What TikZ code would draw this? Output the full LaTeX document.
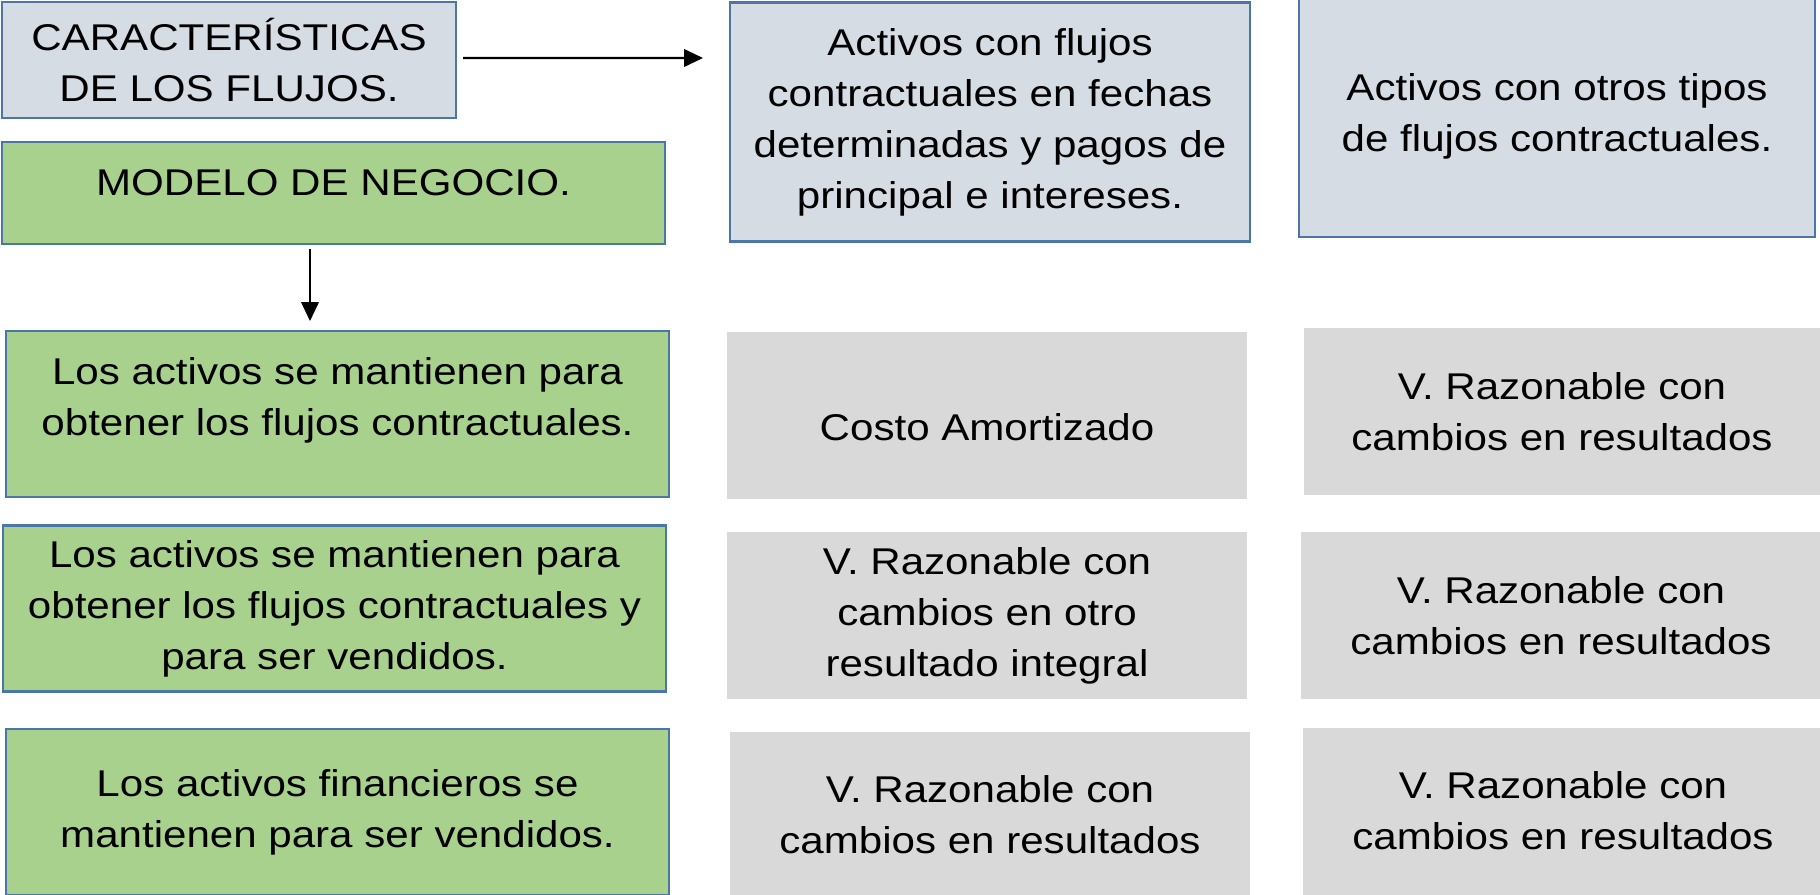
\documentclass[tikz,border=0pt]{standalone}
\usepackage{fontspec}
\setmainfont{Liberation Sans}[FakeStretch=1.13]
\usetikzlibrary{arrows.meta}
\definecolor{azulborde}{HTML}{4A76A8}
\definecolor{azulclaro}{HTML}{D6DCE4}
\definecolor{verdeclaro}{HTML}{A9D18E}
\definecolor{grisclaro}{HTML}{D9D9D9}
\begin{document}
\begin{tikzpicture}[x=0.1mm, y=-0.1mm,
    caja/.style={rectangle, align=center, inner sep=0pt,
      font=\fontsize{10.6pt}{14.5pt}\selectfont},
    cajaazul/.style={caja, draw=azulborde, fill=azulclaro, line width=0.6pt},
    cajaverde/.style={caja, draw=azulborde, fill=verdeclaro, line width=0.6pt,
      minimum width=66.3mm, minimum height=16.6mm},
    cajagris/.style={caja, fill=grisclaro, minimum width=52mm, minimum height=16.7mm},
    flecha/.style={-{Triangle[length=5.4pt,width=5pt]}, line width=0.6pt}]
  \useasboundingbox (0,0) rectangle (1820,894);
  \clip (0,0) rectangle (1820,894);
  %
  \node[cajaazul, minimum width=45.4mm, minimum height=11.6mm] (carac) at (229,60)
    {CARACTERÍSTICAS\\DE LOS FLUJOS.};
  \node[cajaverde, minimum height=10.2mm, text depth=6.2pt] (modelo) at (333.5,193)
    {MODELO DE NEGOCIO.};
  %% encabezados de columna
  \node[cajaazul, minimum width=52mm, minimum height=23.9mm] (azul1) at (990,122)
    {Activos con flujos\\contractuales en fechas\\determinadas y pagos de\\principal e intereses.};
  \node[cajaazul, minimum width=51.6mm, minimum height=24.2mm] (azul2) at (1557,116)
    {Activos con otros tipos\\de flujos contractuales.};
  %% filas (modelo de negocio)
  \node[cajaverde, text depth=10pt] (verde1) at (337.5,414)
    {Los activos se mantienen para\\obtener los flujos contractuales.};
  \node[cajaverde] (verde2) at (334.5,608.5)
    {Los activos se mantienen para\\obtener los flujos contractuales y\\para ser vendidos.};
  \node[cajaverde] (verde3) at (337.5,812)
    {Los activos financieros se\\mantienen para ser vendidos.};
  %% resultados
  \node[cajagris, text height=14.3pt] (costo) at (987,415.5) {Costo Amortizado};
  \node[cajagris, minimum width=51.6mm] (gris12) at (1562,411.5)
    {V. Razonable con\\cambios en resultados};
  \node[cajagris] (gris21) at (987,615.5)
    {V. Razonable con\\cambios en otro\\resultado integral};
  \node[cajagris] (gris22) at (1561,615.5)
    {V. Razonable con\\cambios en resultados};
  \node[cajagris] (gris31) at (990,815)
    {V. Razonable con\\cambios en resultados};
  \node[cajagris] (gris32) at (1563,811)
    {V. Razonable con\\cambios en resultados};
  %
  \coordinate (fderecha) at (703,58);
  \coordinate (fabajo) at (310,321);
  \draw[flecha] ([xshift=0.6mm,yshift=0.2mm]carac.east) -- (fderecha);
  \draw[flecha] (modelo.south -| fabajo) ++(0,4) -- (fabajo);
  %
\end{tikzpicture}
\end{document}
